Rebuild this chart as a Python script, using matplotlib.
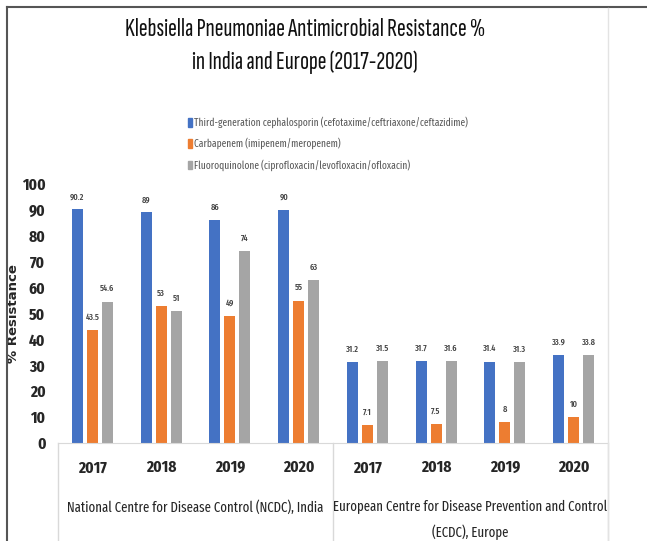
import matplotlib.pyplot as plt
from matplotlib.lines import Line2D
from matplotlib.patches import Patch
import numpy as np

# Klebsiella pneumoniae resistance (%) by year, NCDC India vs ECDC Europe
years = ["2017", "2018", "2019", "2020", "2017", "2018", "2019", "2020"]
sources = ["National Centre for Disease Control (NCDC), India",
           "European Centre for Disease Prevention and Control",
           "(ECDC), Europe"]
cephalosporin = [90.2, 89, 86, 90, 31.2, 31.7, 31.4, 33.9]
carbapenem = [43.5, 53, 49, 55, 7.1, 7.5, 8, 10]
fluoroquinolone = [54.6, 51, 74, 63, 31.5, 31.6, 31.3, 33.8]
series_names = ["Third-generation cephalosporin (cefotaxime/ceftriaxone/ceftazidime)",
                "Carbapenem (imipenem/meropenem)",
                "Fluoroquinolone (ciprofloxacin/levofloxacin/ofloxacin)"]
colors = ["#4472C4", "#ED7D31", "#A5A5A5"]

NARROW = "Fira Sans Extra Condensed"
XNARROW = "Sofia Sans Extra Condensed"
TXT = "#262626"

W, H = 647, 541
fig = plt.figure(figsize=(W / 100, H / 100), dpi=100)
ax = fig.add_axes([58 / W, 1 - 443 / H, 550 / W, 259 / H])

x = np.arange(len(years))
offsets = [-0.218, 0.0, 0.218]
width = 0.16
for vals, off, col in zip([cephalosporin, carbapenem, fluoroquinolone], offsets, colors):
    bars = ax.bar(x + off, vals, width, color=col)
    for b, v in zip(bars, vals):
        ax.annotate(f"{v:g}", (b.get_x() + b.get_width() / 2, v), xytext=(0, 6),
                    textcoords="offset points", ha="center", va="bottom",
                    fontsize=6.5, fontweight="medium", color="#404040", family=NARROW)

ax.set_xlim(-0.5, 7.5)
ax.set_ylim(0, 100)
ax.set_yticks(range(0, 101, 10))
ax.set_xticks(x)
ax.set_xticklabels(years, fontsize=12, fontweight="bold", family=NARROW, color=TXT)
for lab in ax.get_yticklabels():
    lab.set_fontsize(12)
    lab.set_fontweight("bold")
    lab.set_family(NARROW)
    lab.set_color(TXT)
ax.tick_params(axis="both", length=0)
ax.tick_params(axis="y", pad=9)
ax.tick_params(axis="x", pad=12)
for s in ["top", "right", "left"]:
    ax.spines[s].set_visible(False)
ax.spines["bottom"].set_color("#D9D9D9")
ax.set_ylabel("% Resistance", fontsize=9.5, fontweight="bold", color=TXT)
ax.yaxis.set_label_coords(-0.069, 0.5)

# outer category labels and separators
bottom = -(H - 443) / 259
xt = ax.get_xaxis_transform()
for xs in [-0.5, 3.5, 7.5]:
    ax.add_line(Line2D([xs, xs], [0, bottom], transform=xt,
                       color="#D9D9D9", lw=1, clip_on=False))
ax.text(1.5, -(507 - 443) / 259, sources[0], transform=xt, ha="center",
        va="center", fontsize=10, family=NARROW, color=TXT)
ax.text(5.5, -(507 - 443) / 259, sources[1], transform=xt, ha="center",
        va="center", fontsize=10, family=NARROW, color=TXT)
ax.text(5.5, -(532 - 443) / 259, sources[2], transform=xt, ha="center",
        va="center", fontsize=10, family=NARROW, color=TXT)

handles = [Patch(color=c) for c in colors]
fig.legend(handles, series_names, loc="upper left", bbox_to_anchor=(179 / W, 1 - 107 / H),
           frameon=False, handlelength=0.4, handleheight=0.95,
           handletextpad=0.2, labelspacing=0.95, labelcolor="#595959",
           prop={"family": NARROW, "size": 7.4})

fig.text(305 / W, 1 - 36 / H, "Klebsiella Pneumoniae Antimicrobial Resistance %",
         ha="center", va="baseline", fontsize=19, family=XNARROW, color="#111111")
fig.text(305 / W, 1 - 69 / H, "in India and Europe (2017-2020)",
         ha="center", va="baseline", fontsize=19, family=XNARROW, color="#111111")

# outer frame
fig.add_artist(Line2D([7 / W, 1], [1 - 7 / H, 1 - 7 / H], color="#555555", lw=1.5))
fig.add_artist(Line2D([7 / W, 7 / W], [0, 1 - 7 / H], color="#555555", lw=1.5))
fig.add_artist(Line2D([608 / W, 608 / W], [0, 1 - 8 / H], color="#E3E3E3", lw=1))

fig.savefig("out.png", dpi=100)
